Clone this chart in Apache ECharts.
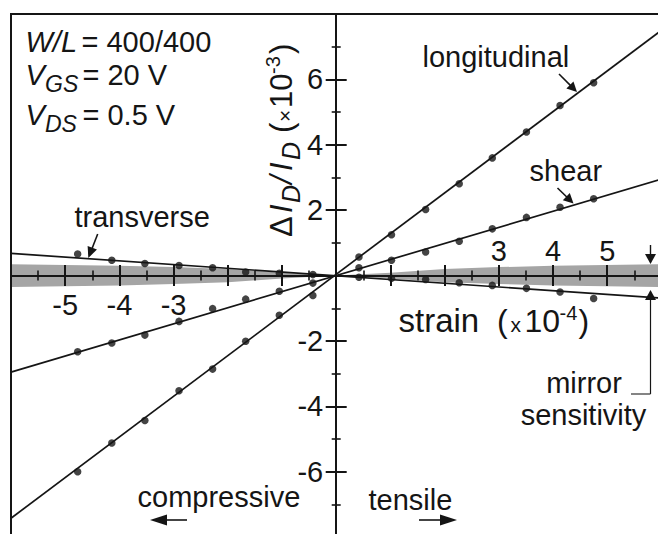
<!DOCTYPE html>
<html><head><meta charset="utf-8">
<script src="https://cdn.jsdelivr.net/npm/echarts@6/dist/echarts.min.js"></script>
<style>html,body{margin:0;padding:0;background:#fff}#c{width:658px;height:534px}</style>
</head><body><div id="c"></div>
<script>
// ---------------- data ----------------
const strain       = [-4.77,-4.14,-3.53,-2.90,-2.28,-1.67,-1.05,-0.43, 0.42, 1.02, 1.65, 2.27, 2.88, 3.51, 4.13, 4.75];
const longitudinal = [-6.00,-5.12,-4.43,-3.52,-2.86,-2.01,-1.21,-0.61, 0.57, 1.25, 2.02, 2.81, 3.60, 4.39, 5.20, 5.90];
const shear        = [-2.33,-2.06,-1.82,-1.40,-1.01,-0.72,-0.48,-0.23, 0.24, 0.47, 0.72, 1.05, 1.43, 1.78, 2.09, 2.35];
const transverse   = [ 0.66, 0.47, 0.37, 0.31, 0.24, 0.11, 0.07, 0.03,-0.05,-0.08,-0.12,-0.22,-0.30,-0.39,-0.50,-0.70];

const fitStrain       = [-6, 6];
const longitudinalFit = [-7.42, 7.50];
const shearFit        = [-2.95, 2.95];
const transverseFit   = [0.68, -0.69];

const bandStrain = [-6, -4, -3, -2, -1, 0, 1, 2, 3, 4, 6];
const bandUpper  = [0.35, 0.30, 0.26, 0.20, 0.09, 0, 0.09, 0.20, 0.26, 0.30, 0.35];
const bandLower  = [-0.35, -0.30, -0.26, -0.20, -0.09, 0, -0.09, -0.20, -0.26, -0.30, -0.35];

const xTickLabelsBelow = [-5, -4, -3];
const xTickLabelsAbove = [3, 4, 5];
const yTickLabels = [6, 4, 2, -2, -4, -6];

// ---------------- helpers ----------------
const INK = '#151515';
const FONT = '"Liberation Sans", Arial, Helvetica, sans-serif';
const pair = (xs, ys) => xs.map((x, i) => [x, ys[i]]);

function T(text, x, baseline, size, o) {
  o = o || {};
  return {
    type: 'text', x: x, y: baseline - 0.3465 * size, silent: true, z: 20,
    style: {
      text: text, fontSize: size, fontFamily: FONT,
      fontStyle: o.italic ? 'italic' : 'normal',
      fill: o.color || INK, align: o.align || 'left', verticalAlign: 'middle'
    }
  };
}
function arrow(x1, y1, x2, y2, hl, hw, w) {
  const dx = x2 - x1, dy = y2 - y1, L = Math.hypot(dx, dy), ux = dx / L, uy = dy / L;
  const bx = x2 - ux * hl, by = y2 - uy * hl;
  return [
    { type: 'line', silent: true, z: 20, shape: { x1: x1, y1: y1, x2: bx + ux, y2: by + uy }, style: { stroke: INK, lineWidth: w } },
    { type: 'polygon', silent: true, z: 20, shape: { points: [[x2, y2], [bx - uy * hw, by + ux * hw], [bx + uy * hw, by - ux * hw]] }, style: { fill: INK } }
  ];
}

// ---------------- layout of the plot box ----------------
const GRID_LEFT = 11, GRID_TOP = 14, GRID_W = 650.4, GRID_H = 523.2;
const X_MIN = -6, X_MAX = 6, Y_MIN = -8, Y_MAX = 8;
// offsets that bring the axes (placed at the box edges) onto the zero lines
const yAxisShift = -GRID_W * (0 - X_MIN) / (X_MAX - X_MIN);
const yAxisShiftR = -GRID_W * (X_MAX - 0) / (X_MAX - X_MIN);
const xAxisShiftB = -GRID_H * (0 - Y_MIN) / (Y_MAX - Y_MIN);
const xAxisShiftT = -GRID_H * (Y_MAX - 0) / (Y_MAX - Y_MIN);

const chart = echarts.init(document.getElementById('c'), null, { renderer: 'svg' });

const axisFont = { fontSize: 29, fontFamily: FONT, color: INK };
function xAxisDef(pos, labels, margin, offset) {
  return {
    type: 'value', min: X_MIN, max: X_MAX, interval: 1, position: pos, offset: offset,
    axisLine: { show: true, onZero: false, lineStyle: { color: INK, width: 2 } },
    axisTick: { show: true, length: 10.5, lineStyle: { color: INK, width: 2 } },
    minorTick: { show: true, splitNumber: 2, length: 5, lineStyle: { color: INK, width: 1.6 } },
    axisLabel: Object.assign({ show: true, margin: margin,
      formatter: v => labels.indexOf(v) >= 0 ? String(v) : '' }, axisFont),
    splitLine: { show: false }, minorSplitLine: { show: false }
  };
}
function yAxisDef(pos, labels, margin, offset) {
  return {
    type: 'value', min: Y_MIN, max: Y_MAX, interval: 2, position: pos, offset: offset,
    axisLine: { show: true, onZero: false, lineStyle: { color: INK, width: 2 } },
    axisTick: { show: true, length: 10.5, lineStyle: { color: INK, width: 2 } },
    minorTick: { show: true, splitNumber: 2, length: 4.5, lineStyle: { color: INK, width: 1.6 } },
    axisLabel: Object.assign({ show: labels.length > 0, margin: margin,
      formatter: v => labels.indexOf(v) >= 0 ? String(v) : '' }, axisFont),
    splitLine: { show: false }, minorSplitLine: { show: false }
  };
}

const graphics = [];
// parameter block
graphics.push(T('W/L', 25.5, 51.7, 29, { italic: true }));
graphics.push(T('= 400/400', 81.5, 51.7, 29));
graphics.push(T('V', 25.5, 85, 29, { italic: true }));
graphics.push(T('GS', 45, 91.7, 23, { italic: true }));
graphics.push(T('= 20 V', 82.5, 85, 29));
graphics.push(T('V', 25.5, 125, 29, { italic: true }));
graphics.push(T('DS', 45, 131.7, 23, { italic: true }));
graphics.push(T('= 0.5 V', 82.5, 125, 29));
// curve labels
graphics.push(T('longitudinal', 422.5, 66.7, 29));
graphics.push(...arrow(559, 74, 577, 92, 10, 5, 1.6));
graphics.push(T('shear', 529.5, 181, 29));
graphics.push(...arrow(557.5, 188, 573.5, 203.5, 10, 5, 1.6));
graphics.push(T('transverse', 74.5, 226.7, 29));
graphics.push(...arrow(97.7, 234, 88.3, 258, 11, 5, 1.6));
// x axis name
graphics.push(T('strain', 398.5, 331.7, 33));
graphics.push(T('(', 497, 331.7, 32));
graphics.push(T('x', 510.5, 331.7, 21));
graphics.push(T('10', 524.5, 331.7, 32));
graphics.push(T('-4', 559.5, 320, 20));
graphics.push(T(')', 578.5, 331.7, 32));
// mirror sensitivity
graphics.push(T('mirror', 584, 393.3, 29, { align: 'center' }));
graphics.push(T('sensitivity', 583.5, 425, 29, { align: 'center' }));
graphics.push(...arrow(650.5, 245, 650.5, 264, 10, 5.5, 1.4));
graphics.push(...arrow(650.5, 394, 650.5, 290, 10, 5.5, 1.2));
graphics.push({ type: 'polyline', silent: true, z: 20, shape: { points: [[650.5, 394], [631, 394]] }, style: { stroke: '#333', lineWidth: 1.2, fill: null } });
// compressive / tensile
graphics.push(T('compressive', 137.5, 506.7, 29));
graphics.push(...arrow(187, 520, 150, 520, 17, 5.5, 1.6));
graphics.push(T('tensile', 368.5, 510, 29));
graphics.push(...arrow(419, 520, 457, 520, 17, 5.5, 1.6));
// y axis title (rotated, reading upward)
graphics.push({
  type: 'group', x: 292, y: 237, rotation: Math.PI / 2, silent: true, z: 20,
  children: [
    T('\u0394', 0, 0, 31),
    T('I', 24, 0, 31, { italic: true }),
    T('D', 34, 8, 25, { italic: true }),
    T('/', 53, 0, 31, { italic: true }),
    T('I', 66, 0, 31, { italic: true }),
    T('D', 77, 8, 25, { italic: true }),
    T('(', 104, 0, 31),
    T('\u00d7', 115, 0, 21),
    T('10', 129, 0, 31),
    T('-3', 163, -12, 20),
    T(')', 183, 0, 31)
  ]
});

chart.setOption({
  animation: false,
  backgroundColor: '#fff',
  grid: { left: GRID_LEFT, top: GRID_TOP, width: GRID_W, height: GRID_H, show: true, borderColor: INK, borderWidth: 2,
          backgroundColor: 'transparent', containLabel: false, outerBoundsMode: 'none' },
  xAxis: [ xAxisDef('bottom', xTickLabelsBelow, 15, xAxisShiftB), xAxisDef('top', xTickLabelsAbove, 10, xAxisShiftT) ],
  yAxis: [ yAxisDef('left', yTickLabels, 13, yAxisShift), yAxisDef('right', [], 13, yAxisShiftR) ],
  series: [
    { name: 'mirror band upper', type: 'line', data: pair(bandStrain, bandUpper), symbol: 'none', silent: true,
      lineStyle: { width: 0 }, areaStyle: { color: '#a5a5a5', opacity: 1 }, z: -1 },
    { name: 'mirror band lower', type: 'line', data: pair(bandStrain, bandLower), symbol: 'none', silent: true,
      lineStyle: { width: 0 }, areaStyle: { color: '#a5a5a5', opacity: 1 }, z: -1 },
    { name: 'longitudinal fit', type: 'line', data: pair(fitStrain, longitudinalFit), symbol: 'none', silent: true,
      lineStyle: { color: INK, width: 1.7 }, z: 3 },
    { name: 'shear fit', type: 'line', data: pair(fitStrain, shearFit), symbol: 'none', silent: true,
      lineStyle: { color: INK, width: 1.7 }, z: 3 },
    { name: 'transverse fit', type: 'line', data: pair(fitStrain, transverseFit), symbol: 'none', silent: true,
      lineStyle: { color: INK, width: 1.7 }, z: 3 },
    { name: 'longitudinal', type: 'scatter', data: pair(strain, longitudinal), symbolSize: 7.5, itemStyle: { color: INK }, z: 4 },
    { name: 'shear', type: 'scatter', data: pair(strain, shear), symbolSize: 7.5, itemStyle: { color: INK }, z: 4 },
    { name: 'transverse', type: 'scatter', data: pair(strain, transverse), symbolSize: 7.5, itemStyle: { color: INK }, z: 4 }
  ],
  graphic: graphics
});
</script>
</body></html>
